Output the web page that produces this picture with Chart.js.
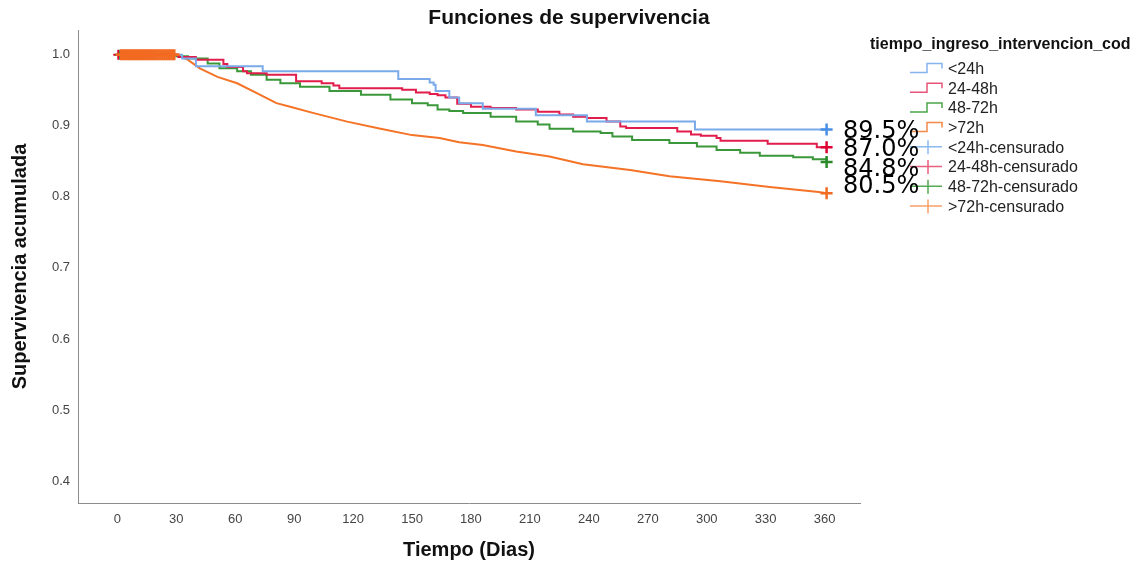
<!DOCTYPE html>
<html>
<head>
<meta charset="utf-8">
<title>Funciones de supervivencia</title>
<script src="https://cdn.jsdelivr.net/npm/chart.js@4.4.1/dist/chart.umd.min.js"></script>
<style>
    html, body { margin: 0; padding: 0; background: #ffffff; }
    #wrap { width: 1138px; height: 565px; }
</style>
</head>
<body>
<div id="wrap"><canvas id="kmChart" width="1138" height="565"></canvas></div>
<script>
// Text
const chartTitle = 'Funciones de supervivencia';
const xTitle = 'Tiempo (Dias)';
const yTitle = 'Supervivencia acumulada';
const legendTitle = 'tiempo_ingreso_intervencion_cod';
const groupNames = ['<24h', '24-48h', '48-72h', '>72h'];
const censNames = ['<24h-censurado', '24-48h-censurado', '48-72h-censurado', '>72h-censurado'];

// Axis ticks
const xTicks = [0, 30, 60, 90, 120, 150, 180, 210, 240, 270, 300, 330, 360];
const yTicks = [0.4, 0.5, 0.6, 0.7, 0.8, 0.9, 1.0];

// <24h (days, survival after the step)
const daysLt24 = [0, 33, 40, 74, 143, 159, 161, 162, 169, 174, 186, 213, 239, 294, 361];
const survLt24 = [1.0, 0.995, 0.984, 0.977, 0.966, 0.961, 0.958, 0.949, 0.94, 0.932, 0.924, 0.915, 0.906, 0.895, 0.895];

// 24-48h
const days2448 = [0, 31, 40, 54, 56, 64, 66, 76, 91, 104, 110, 113, 145, 152, 159, 163, 167, 173, 180, 190, 203, 214, 225, 232, 239, 249, 256, 259, 285, 292, 297, 305, 307, 331, 356, 361];
const surv2448 = [1.0, 0.997, 0.993, 0.987, 0.983, 0.977, 0.974, 0.972, 0.963, 0.96, 0.957, 0.953, 0.951, 0.947, 0.945, 0.943, 0.94, 0.931, 0.927, 0.925, 0.923, 0.92, 0.916, 0.913, 0.911, 0.906, 0.899, 0.897, 0.892, 0.888, 0.886, 0.883, 0.879, 0.875, 0.870, 0.870];

// 48-72h
const days4872 = [0, 30, 36, 46, 52, 61, 68, 76, 83, 93, 108, 124, 139, 150, 158, 163, 169, 176, 190, 203, 214, 220, 232, 246, 252, 262, 281, 295, 305, 317, 327, 344, 354, 361];
const surv4872 = [1.0, 0.998, 0.995, 0.988, 0.981, 0.977, 0.972, 0.965, 0.96, 0.955, 0.949, 0.944, 0.937, 0.932, 0.929, 0.923, 0.921, 0.918, 0.913, 0.906, 0.902, 0.896, 0.892, 0.89, 0.885, 0.88, 0.876, 0.871, 0.866, 0.862, 0.858, 0.856, 0.853, 0.849];

// >72h
const daysGt72 = [0, 30, 36, 42, 51, 61, 71, 81, 88, 100, 117, 134, 150, 164, 174, 186, 203, 220, 237, 261, 281, 307, 332, 357, 361];
const survGt72 = [1.0, 1.0, 0.993, 0.981, 0.969, 0.96, 0.946, 0.932, 0.927, 0.918, 0.906, 0.896, 0.887, 0.883, 0.877, 0.873, 0.864, 0.857, 0.846, 0.838, 0.829, 0.822, 0.814, 0.807, 0.805];

// Censored cases: early band (all at 1.0) and last follow-up
const censEarlyGt72 = [2, 3, 4, 5, 6, 7, 8, 9, 10, 11, 12, 13, 14, 15, 16, 17, 18, 19, 20, 21, 22, 23, 24, 25, 26, 27, 28, 29];
const censEarly2448 = [0.5];
const censEarly4872 = [1.5];
const censEndDay = 361;
const censEndSurv = [0.895, 0.870, 0.849, 0.805];

// Percent annotations at the right end
const pctLabels = ['89.5%', '87.0%', '84.8%', '80.5%'];
const pctY = [0.892, 0.866, 0.838, 0.8145];

// Colours
const lineColors = ['#7aaaea', '#e11d4b', '#3a983a', '#f47326'];
const markColors = ['#4a8fe7', '#dc0033', '#2a8a2a', '#f26a21'];
const legLineColors = ['#86b4ee', '#e6547a', '#4aa64a', '#f58a48'];
const legCensColors = ['#8cbaf0', '#e8607f', '#52aa52', '#f7a06c'];

function toPoints(days, surv) {
    return days.map((d, i) => ({ x: d, y: surv[i] }));
}

const curveSets = [
    [daysLt24, survLt24],
    [days2448, surv2448],
    [days4872, surv4872],
    [daysGt72, survGt72]
];

const datasets = [];

// early censored band, orange on top of everything
datasets.push({
    label: censNames[3],
    data: censEarlyGt72.map(d => ({ x: d, y: 1.0 })),
    showLine: false,
    pointStyle: 'cross',
    pointRadius: 5.5,
    pointBorderWidth: 2.5,
    borderColor: markColors[3],
    backgroundColor: markColors[3],
    order: 0
});
datasets.push({
    label: censNames[2],
    data: censEarly4872.map(d => ({ x: d, y: 1.0 })),
    showLine: false, pointStyle: 'cross', pointRadius: 5, pointBorderWidth: 2,
    borderColor: markColors[2], backgroundColor: markColors[2], order: 1
});
datasets.push({
    label: censNames[1],
    data: censEarly2448.map(d => ({ x: d, y: 1.0 })),
    showLine: false, pointStyle: 'cross', pointRadius: 5, pointBorderWidth: 2,
    borderColor: markColors[1], backgroundColor: markColors[1], order: 2
});

// end-of-follow-up marks
for (let g = 0; g < 4; g++) {
    datasets.push({
        label: censNames[g] + ' fin',
        data: [{ x: censEndDay, y: censEndSurv[g] }],
        showLine: false,
        pointStyle: 'cross',
        pointRadius: 6,
        pointBorderWidth: 2.5,
        borderColor: markColors[g],
        backgroundColor: markColors[g],
        order: 3
    });
}

// survival curves (blue drawn above red, orange below the rest)
const curveOrder = [4, 5, 6, 7];
for (let g = 0; g < 4; g++) {
    datasets.push({
        label: groupNames[g],
        data: toPoints(curveSets[g][0], curveSets[g][1]),
        borderColor: lineColors[g],
        backgroundColor: lineColors[g],
        borderWidth: 2,
        pointRadius: 0,
        stepped: g === 3 ? false : 'before',
        tension: 0,
        order: curveOrder[g]
    });
}

// title, legend block and percent labels
const kmDecor = {
    id: 'kmDecor',
    afterDraw(chart) {
        const ctx = chart.ctx;
        const yScale = chart.scales.y;
        ctx.save();

        ctx.fillStyle = '#111';
        ctx.textAlign = 'center';
        ctx.textBaseline = 'middle';
        ctx.font = 'bold 21px "Liberation Sans", Arial, sans-serif';
        ctx.fillText(chartTitle, 569, 18);

        // legend
        ctx.textAlign = 'left';
        ctx.font = 'bold 16px "Liberation Sans", Arial, sans-serif';
        ctx.fillText(legendTitle, 870, 45);

        ctx.font = '16px "Liberation Sans", Arial, sans-serif';
        for (let i = 0; i < 8; i++) {
            const r = 69.5 + i * 19.7;
            ctx.lineWidth = 1.5;
            if (i < 4) {
                ctx.strokeStyle = legLineColors[i];
                ctx.beginPath();
                ctx.moveTo(910, r + 3);
                ctx.lineTo(927, r + 3);
                ctx.lineTo(927, r - 6);
                ctx.lineTo(942, r - 6);
                ctx.lineTo(942, r - 1);
                ctx.stroke();
                ctx.fillStyle = '#222';
                ctx.fillText(groupNames[i], 948, r);
            } else {
                const g = i - 4;
                ctx.strokeStyle = legCensColors[g];
                ctx.beginPath();
                ctx.moveTo(910, r - 1.5);
                ctx.lineTo(942, r - 1.5);
                ctx.moveTo(928, r - 8);
                ctx.lineTo(928, r + 6);
                ctx.stroke();
                ctx.fillStyle = '#222';
                ctx.fillText(censNames[g], 948, r);
            }
        }

        // percentages
        ctx.fillStyle = '#000';
        ctx.font = '24px "DejaVu Sans", sans-serif';
        ctx.textBaseline = 'middle';
        for (let i = 0; i < pctLabels.length; i++) {
            ctx.fillText(pctLabels[i], 843, yScale.getPixelForValue(pctY[i]));
        }
        ctx.restore();
    }
};

const ctx = document.getElementById('kmChart').getContext('2d');
const kmChart = new Chart(ctx, {
    type: 'line',
    data: { datasets: datasets },
    options: {
        responsive: false,
        animation: false,
        devicePixelRatio: 1,
        parsing: true,
        layout: { padding: { top: 30, right: 278, bottom: 0, left: 0 } },
        plugins: {
            legend: { display: false },
            title: { display: false },
            tooltip: { enabled: false }
        },
        scales: {
            x: {
                type: 'linear',
                min: -20,
                max: 378,
                afterBuildTicks: (s) => { s.ticks = xTicks.map(v => ({ value: v })); },
                afterFit: (s) => { s.height = 62; },
                grid: { display: false, drawTicks: false },
                border: { display: true, color: '#8c8c8c', width: 1 },
                ticks: {
                    color: '#444',
                    font: { family: '"Liberation Sans", Arial, sans-serif', size: 13 },
                    padding: 9,
                    maxRotation: 0,
                    autoSkip: false
                },
                title: {
                    display: true,
                    text: xTitle,
                    color: '#111',
                    font: { family: '"Liberation Sans", Arial, sans-serif', size: 20, weight: 'bold' },
                    padding: { top: 0, bottom: 3 }
                }
            },
            y: {
                type: 'linear',
                min: 0.369,
                max: 1.035,
                afterBuildTicks: (s) => { s.ticks = yTicks.map(v => ({ value: v })); },
                afterFit: (s) => { s.width = 78; },
                grid: { display: false, drawTicks: false },
                border: { display: true, color: '#8c8c8c', width: 1 },
                ticks: {
                    color: '#444',
                    font: { family: '"Liberation Sans", Arial, sans-serif', size: 13 },
                    padding: 8,
                    callback: (v) => Number(v).toFixed(1)
                },
                title: {
                    display: true,
                    text: yTitle,
                    color: '#111',
                    font: { family: '"Liberation Sans", Arial, sans-serif', size: 20, weight: 'bold' },
                    padding: { top: 8, bottom: 0 }
                }
            }
        }
    },
    plugins: [kmDecor]
});
</script>
</body>
</html>
